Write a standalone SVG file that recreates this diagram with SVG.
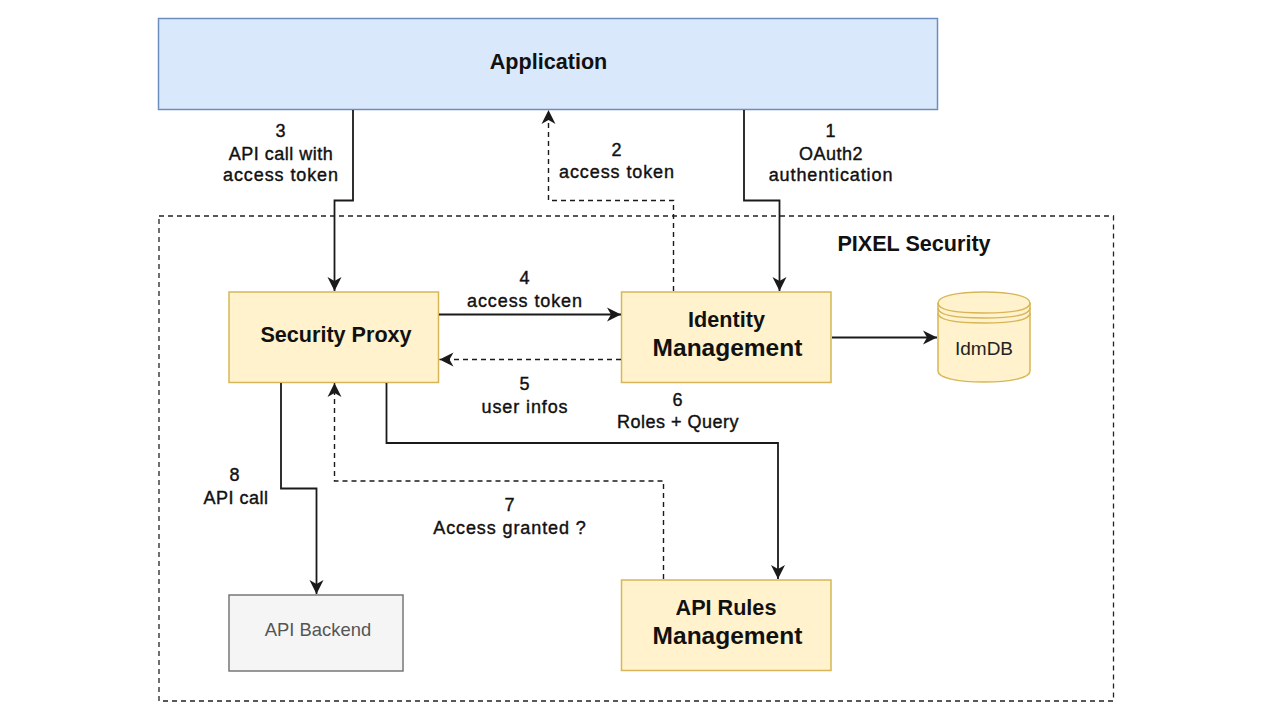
<svg xmlns="http://www.w3.org/2000/svg" width="1280" height="720" viewBox="0 0 1280 720">
<style>
text{font-family:"Liberation Sans",Arial,sans-serif;text-anchor:middle;fill:#111}
.l{font-size:18px;letter-spacing:.9px;stroke:#111;stroke-width:.4}
.n{letter-spacing:.5px}
.b{font-size:21.600px;font-weight:700}
.bb{font-size:24.500px;font-weight:700}
.y{fill:#fff2cc;stroke:#d6b656;stroke-width:1.5}
.c{fill:none;stroke:#1a1a1a;stroke-width:1.8;marker-end:url(#a)}
.d{stroke-dasharray:5 4;stroke-width:1.4}
</style>
<defs><marker id="a" markerUnits="userSpaceOnUse" markerWidth="16" markerHeight="16" refX="14" refY="8" orient="auto"><path d="M0 1L14 8L0 15L4 8Z" fill="#1a1a1a"/></marker></defs>
<rect width="1280" height="720" fill="#fff"/>
<g id="pixel-security"><rect x="159" y="216" width="954.500" height="485" fill="none" stroke="#222" stroke-width="1.300" stroke-dasharray="5 4"/><text class="b" x="914" y="251">PIXEL Security</text></g>
<g id="application"><rect x="158.500" y="18.500" width="779" height="91" fill="#dae8fc" stroke="#6c8ebf" stroke-width="1.500"/><text class="b" x="548.500" y="69">Application</text></g>
<g id="security-proxy"><rect class="y" x="229" y="292" width="209.500" height="90.500"/><text class="b" x="336" y="342">Security Proxy</text></g>
<g id="identity-management"><rect class="y" x="621.500" y="292" width="209.500" height="90.500"/><text class="b" x="726.500" y="327">Identity</text><text class="bb" x="727.500" y="356">Management</text></g>
<g id="idmdb"><path class="y" d="M938 303C938 296 957 292 984 292S1030 296 1030 303V371C1030 378 1011 382 984 382S938 378 938 371Z"/><path d="M938 303C938 310 957 313 984 313S1030 310 1030 303M938 308C938 315 957 318 984 318S1030 315 1030 308M938 313C938 320 957 323 984 323S1030 320 1030 313" fill="none" stroke="#d6b656" stroke-width="1.500"/><text x="984" y="355" style="font-size:19px;fill:#222">IdmDB</text></g>
<g id="api-backend"><rect x="229" y="595" width="174" height="76" fill="#f5f5f5" stroke="#777" stroke-width="1.500"/><text x="318" y="636" style="font-size:18.400px;fill:#555">API Backend</text></g>
<g id="api-rules-management"><rect class="y" x="621.500" y="580" width="209.500" height="90.500"/><text class="b" x="726" y="615">API Rules</text><text class="bb" x="727.500" y="644">Management</text></g>
<g id="connectors">
<path class="c" d="M353 110V200.500H334.500V291"/>
<path class="c" d="M744 110V200.500H779.500V291"/>
<path class="c d" d="M673.500 291V200.500H548.500V110"/>
<path class="c" d="M439 314.500H621"/>
<path class="c d" d="M621 359.500H439.500"/>
<path class="c" d="M832 337.500H937"/>
<path class="c" d="M386.500 383V443H778V579"/>
<path class="c d" d="M663.500 579V481H334.500V383"/>
<path class="c" d="M281 383V488.500H316.500V594"/>
</g>
<g id="labels">
<text class="l" x="281" y="137">3</text><text class="l n" x="281" y="160">API call with</text><text class="l" x="281" y="181">access token</text>
<text class="l" x="617" y="156">2</text><text class="l" x="617" y="178">access token</text>
<text class="l" x="831" y="137">1</text><text class="l n" x="831" y="160">OAuth2</text><text class="l" x="831" y="181">authentication</text>
<text class="l" x="525" y="284">4</text><text class="l" x="525" y="307">access token</text>
<text class="l" x="525" y="390">5</text><text class="l" x="525" y="413">user infos</text>
<text class="l" x="678" y="406">6</text><text class="l n" x="678" y="428">Roles + Query</text>
<text class="l" x="510" y="511">7</text><text class="l" x="510" y="534">Access granted ?</text>
<text class="l" x="235" y="481">8</text><text class="l n" x="236" y="504">API call</text>
</g>
</svg>
